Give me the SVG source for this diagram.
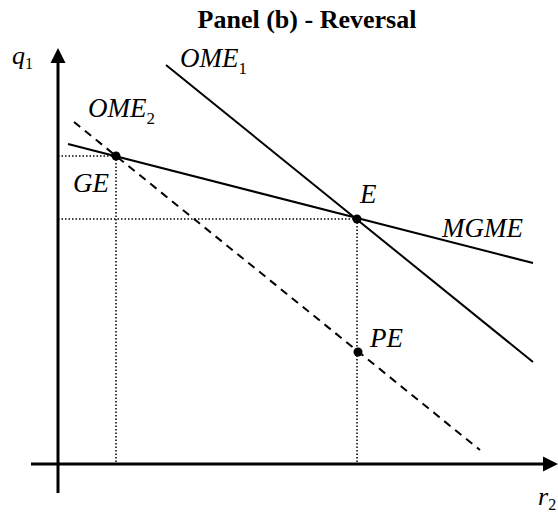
<svg xmlns="http://www.w3.org/2000/svg" width="558" height="512" viewBox="0 0 558 512">
<defs>
<style>
.axis{stroke:#000;stroke-width:3;fill:none}
.solid{stroke:#000;stroke-width:2;fill:none}
.dash{stroke:#000;stroke-width:2;fill:none;stroke-dasharray:8 6}
.dot{stroke:#000;stroke-width:1.5;fill:none;stroke-dasharray:1.5 2}
.pt{fill:#000}
</style>
</defs>
<rect width="558" height="512" fill="#fff"/>
<text x="307" y="28" text-anchor="middle" font-family="Liberation Serif, DejaVu Serif, serif" font-weight="bold" font-size="26">Panel (b) - Reversal</text>
<g id="axes" font-family="Liberation Serif, DejaVu Serif, serif" font-style="italic" font-size="26">
<line class="axis" x1="58" y1="493" x2="58" y2="62"/>
<polygon points="58,48 50.5,63 65.5,63" fill="#000"/>
<line class="axis" x1="31" y1="464" x2="545" y2="464"/>
<polygon points="558,464 543,456.5 543,471.5" fill="#000"/>
<text x="12" y="64">q<tspan font-style="normal" font-size="16" dy="5">1</tspan></text>
<text x="538" y="505">r<tspan font-style="normal" font-size="16" dy="5">2</tspan></text>
</g>
<g id="connectors">
<line class="dot" x1="58" y1="156" x2="116" y2="156"/>
<line class="dot" x1="116" y1="156" x2="116" y2="464"/>
<line class="dot" x1="58" y1="219" x2="357" y2="219"/>
<line class="dot" x1="357" y1="219" x2="357" y2="464"/>
<line id="OME1" class="solid" x1="166" y1="65" x2="533" y2="362"/>
<line id="MGME" class="solid" x1="68" y1="144" x2="533" y2="263"/>
<line id="OME2" class="dash" x1="74" y1="122" x2="480" y2="450"/>
</g>
<g font-family="Liberation Serif, DejaVu Serif, serif" font-style="italic" font-size="27">
<g id="label-OME1"><text x="180" y="67">OME<tspan font-style="normal" font-size="17" dy="7">1</tspan></text></g>
<g id="label-OME2"><text x="88" y="117">OME<tspan font-style="normal" font-size="17" dy="7">2</tspan></text></g>
<g id="label-MGME"><text x="442" y="237">MGME</text></g>
<g id="node-GE"><circle class="pt" cx="116" cy="156" r="4.5"/><text x="73" y="192">GE</text></g>
<g id="node-E"><circle class="pt" cx="357" cy="219" r="4.5"/><text x="360" y="203">E</text></g>
<g id="node-PE"><circle class="pt" cx="358" cy="352" r="4.5"/><text x="370" y="347">PE</text></g>
</g>
</svg>
